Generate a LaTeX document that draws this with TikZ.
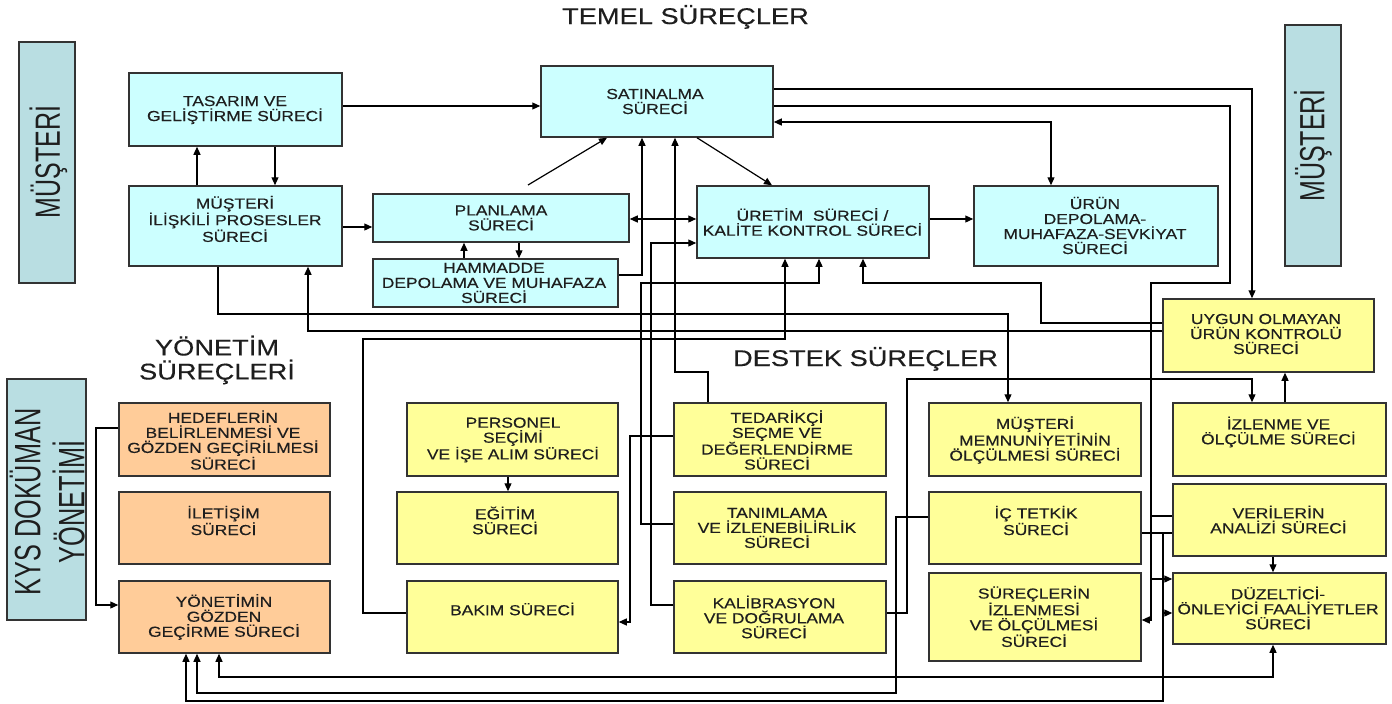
\documentclass[tikz,border=0pt]{standalone}
\usepackage{fontspec}
\usepackage{graphicx}
\setmainfont{Liberation Sans}[FakeStretch=1.2]
\newfontfamily\boxfont{Liberation Sans}[FakeStretch=1.2, FakeBold=0.35]
\newfontfamily\rotfont{Liberation Sans}
\usetikzlibrary{arrows.meta}
\definecolor{cy}{RGB}{204,255,255}
\definecolor{yl}{RGB}{255,255,153}
\definecolor{og}{RGB}{255,204,153}
\definecolor{barc}{RGB}{185,222,226}
\definecolor{bd}{RGB}{51,51,51}
\definecolor{tx}{RGB}{30,30,30}
\begin{document}
\begin{tikzpicture}[x=1pt,y=-1pt,
  box/.style={draw=bd, line width=1.5pt, inner sep=0pt},
  cbox/.style={box, fill=cy},
  ybox/.style={box, fill=yl},
  obox/.style={box, fill=og},
  barbox/.style={box, fill=barc},
  txt/.style={align=center, inner sep=0pt, text=tx, font=\boxfont\fontsize{14.5}{15}\selectfont},
  ttl/.style={align=center, inner sep=0pt, text=tx, font=\boxfont\fontsize{22.7}{24}\selectfont},
  rot/.style={rotate=90, inner sep=0pt, text=tx},
  con/.style={draw=black, line width=1.2pt},
  arr/.style={con, -{Triangle[length=8pt,width=7pt]}},
  darr/.style={con, {Triangle[length=8pt,width=7pt]}-{Triangle[length=8pt,width=7pt]}},
]
\useasboundingbox (0,0) rectangle (1392,704);

% ---------- titles ----------
\node[ttl, anchor=base] (t-temel) at (685.5,24) {TEMEL SÜREÇLER};
\node[ttl, anchor=base] (t-destek) at (865.5,366) {DESTEK SÜREÇLER};
\node[ttl] (t-yon) at (217,360) {YÖNETİM\\SÜREÇLERİ};

% ---------- side bars ----------
\node[barbox, minimum width=56pt, minimum height=241pt] (mL) at (47,162.5) {};
\node[rot] (mL-t) at (48.5,162) {\rotfont\fontsize{25}{25}\selectfont\scalebox{1}[1.4]{MÜŞTERİ}};
\node[barbox, minimum width=56pt, minimum height=241pt] (mR) at (1313,145.5) {};
\node[rot] (mR-t) at (1313,145.5) {\rotfont\fontsize{25}{25}\selectfont\scalebox{1}[1.4]{MÜŞTERİ}};
\node[barbox, minimum width=79pt, minimum height=241pt] (kys) at (46.5,499.5) {};
\node[rot] (kys-t) at (53,502) {\rotfont\fontsize{25.3}{27.6}\selectfont\scalebox{1}[1.45]{\begin{tabular}{@{}c@{}}KYS DOKÜMAN\\YÖNETİMİ\end{tabular}}};

% ---------- core processes ----------
\node[cbox, minimum width=213pt, minimum height=73pt] (tas) at (235.5,109.5) {};
\node[txt] (tas-t) at (235,110) {TASARIM VE\\GELİŞTİRME SÜRECİ};
\node[cbox, minimum width=213pt, minimum height=80pt] (mil) at (235.5,226) {};
\node[txt] (mil-t) at (235,219) {MÜŞTERİ\\İLİŞKİLİ PROSESLER\\SÜRECİ};
\node[cbox, minimum width=256pt, minimum height=48pt] (plan) at (501,218) {};
\node[txt] (plan-t) at (501,218) {PLANLAMA\\SÜRECİ};
\node[cbox, minimum width=245pt, minimum height=48pt] (ham) at (495.5,283) {};
\node[txt] (ham-t) at (494,283) {HAMMADDE\\DEPOLAMA VE MUHAFAZA\\SÜRECİ};
\node[cbox, minimum width=232pt, minimum height=71pt] (sat) at (657,101.5) {};
\node[txt] (sat-t) at (655,101.5) {SATINALMA\\SÜRECİ};
\node[cbox, minimum width=232pt, minimum height=72pt] (ure) at (813,222) {};
\node[txt] (ure-t) at (812.5,222) {ÜRETİM\ \ SÜRECİ /\\KALİTE KONTROL SÜRECİ};
\node[cbox, minimum width=244pt, minimum height=80pt] (urun) at (1096,226) {};
\node[txt] (urun-t) at (1095,225.5) {ÜRÜN\\DEPOLAMA-\\MUHAFAZA-SEVKİYAT\\SÜRECİ};
\node[ybox, minimum width=211pt, minimum height=73pt] (uyg) at (1268.5,335.5) {};
\node[txt] (uyg-t) at (1266,334) {UYGUN OLMAYAN\\ÜRÜN KONTROLÜ\\SÜRECİ};

% ---------- management ----------
\node[obox, minimum width=211pt, minimum height=73pt] (hed) at (224.5,439.5) {};
\node[txt] (hed-t) at (223,440) {HEDEFLERİN\\BELİRLENMESİ VE\\GÖZDEN GEÇİRİLMESİ\\SÜRECİ};
\node[obox, minimum width=211pt, minimum height=72pt] (ilet) at (224.5,528) {};
\node[txt] (ilet-t) at (223.5,520.5) {İLETİŞİM\\SÜRECİ};
\node[obox, minimum width=211pt, minimum height=72pt] (yon) at (224.5,617) {};
\node[txt] (yon-t) at (224,617) {YÖNETİMİN\\GÖZDEN\\GEÇİRME SÜRECİ};

% ---------- support ----------
\node[ybox, minimum width=211pt, minimum height=73pt] (pers) at (512.5,439.5) {};
\node[txt] (pers-t) at (513,440) {PERSONEL\\SEÇİMİ\\VE İŞE ALIM SÜRECİ};
\node[ybox, minimum width=221pt, minimum height=72pt] (egit) at (507.5,528) {};
\node[txt] (egit-t) at (505,520.5) {EĞİTİM\\SÜRECİ};
\node[ybox, minimum width=211pt, minimum height=72pt] (bak) at (512.5,617) {};
\node[txt] (bak-t) at (512.5,609) {BAKIM SÜRECİ};
\node[ybox, minimum width=212pt, minimum height=73pt] (ted) at (780,439.5) {};
\node[txt] (ted-t) at (777,440) {TEDARİKÇİ\\SEÇME VE\\DEĞERLENDİRME\\SÜRECİ};
\node[ybox, minimum width=212pt, minimum height=72pt] (tan) at (780,528) {};
\node[txt] (tan-t) at (777,528) {TANIMLAMA\\VE İZLENEBİLİRLİK\\SÜRECİ};
\node[ybox, minimum width=212pt, minimum height=72pt] (kal) at (780,617) {};
\node[txt] (kal-t) at (774,617) {KALİBRASYON\\VE DOĞRULAMA\\SÜRECİ};
\node[ybox, minimum width=212pt, minimum height=73pt] (mem) at (1035,439.5) {};
\node[txt] (mem-t) at (1035,440) {MÜŞTERİ\\MEMNUNİYETİNİN\\ÖLÇÜLMESİ SÜRECİ};
\node[ybox, minimum width=212pt, minimum height=72pt] (ic) at (1035,528) {};
\node[txt] (ic-t) at (1036,520.5) {İÇ TETKİK\\SÜRECİ};
\node[ybox, minimum width=212pt, minimum height=88pt] (sur) at (1035,617) {};
\node[txt] (sur-t) at (1034,616.5) {SÜREÇLERİN\\İZLENMESİ\\VE ÖLÇÜLMESİ\\SÜRECİ};
\node[ybox, minimum width=213pt, minimum height=73pt] (izl) at (1279.5,439.5) {};
\node[txt] (izl-t) at (1278.5,432) {İZLENME VE\\ÖLÇÜLME SÜRECİ};
\node[ybox, minimum width=213pt, minimum height=72pt] (ver) at (1279.5,520) {};
\node[txt] (ver-t) at (1278.5,519.5) {VERİLERİN\\ANALİZİ SÜRECİ};
\node[ybox, minimum width=213pt, minimum height=71pt] (duz) at (1279.5,608.5) {};
\node[txt] (duz-t) at (1278,608) {DÜZELTİCİ-\\ÖNLEYİCİ FAALİYETLER\\SÜRECİ};

% ---------- connectors ----------
\draw[arr] (197,0 |- mil.north) -- (197,0 |- tas.south);
\draw[arr] (275,0 |- tas.south) -- (275,0 |- mil.north);
\draw[arr] (mil.east |- 0,227) -- (plan.west |- 0,227);
\draw[arr] (464,0 |- ham.north) -- (464,0 |- plan.south);
\draw[arr] (519,0 |- plan.south) -- (519,0 |- ham.north);
\draw[arr] (tas.east |- 0,106) -- (sat.west |- 0,106);
\coordinate (pl-up) at (528,185);
\draw[arr] (pl-up) -- (607,0 |- sat.south);
\draw[arr] (697,0 |- sat.south) -- (772,0 |- ure.north);
\draw[arr] (ham.east |- 0,275) -| (642,0 |- sat.south);
\draw[darr] (plan.east |- 0,219) -- (ure.west |- 0,219);
\draw[arr] (708,0 |- ted.north) |- (675,372) -- (675,0 |- sat.south);
\draw[arr] (kal.west |- 0,605) -| (651,243) -- (ure.west |- 0,243);
\draw[arr] (tan.west |- 0,524) -| (641,283) -| (819,0 |- ure.south);
\draw[arr] (bak.west |- 0,613) -| (363,339) -| (785,0 |- ure.south);
\draw[arr] (uyg.west |- 0,323) -| (1041,283) -| (863,0 |- ure.south);
\draw[arr] (uyg.west |- 0,331) -| (308,0 |- mil.south);
\draw[arr] (218,0 |- mil.south) |- (1008,314) -- (1008,0 |- mem.north);
\draw[arr] (ure.east |- 0,219) -- (urun.west |- 0,219);
\draw[darr] (sat.east |- 0,122) -| (1051,0 |- urun.north);
\draw[arr] (sat.east |- 0,89) -| (1252,0 |- uyg.north);
\draw[arr] (sat.east |- 0,106) -| (1230,283) -| (1151,620) -- (sur.east |- 0,620);
\coordinate (j1) at (1151,516);
\coordinate (j2) at (1151,579);
\draw[con] (j1) -- (ver.west |- j1);
\draw[arr] (j2) -- (duz.west |- j2);
\draw[arr] (1285,0 |- izl.north) -- (1285,0 |- uyg.south);
\draw[arr] (kal.east |- 0,613) -| (907,379) -| (1252,0 |- izl.north);
\draw[arr] (1273,0 |- ver.south) -- (1273,0 |- duz.north);
\draw[arr] (508,0 |- pers.south) -- (508,0 |- egit.north);
\draw[arr] (ted.west |- 0,436) -| (630,622) -- (bak.east |- 0,622);
\draw[arr] (hed.west |- 0,428) -| (96,605) -- (yon.west |- 0,605);
\draw[arr] (ic.west |- 0,517) -| (896,693) -| (197,0 |- yon.south);
\draw[darr] (219,0 |- yon.south) |- (1273,677) -- (1273,0 |- duz.south);
\draw[con] (ic.east |- 0,533) -- (ver.west |- 0,533);
\coordinate (j3) at (1163,533);
\coordinate (j4) at (1163,613);
\draw[arr] (j3) |- (186,701) -- (186,0 |- yon.south);
\draw[arr] (j4) -- (duz.west |- j4);
\end{tikzpicture}
\end{document}
